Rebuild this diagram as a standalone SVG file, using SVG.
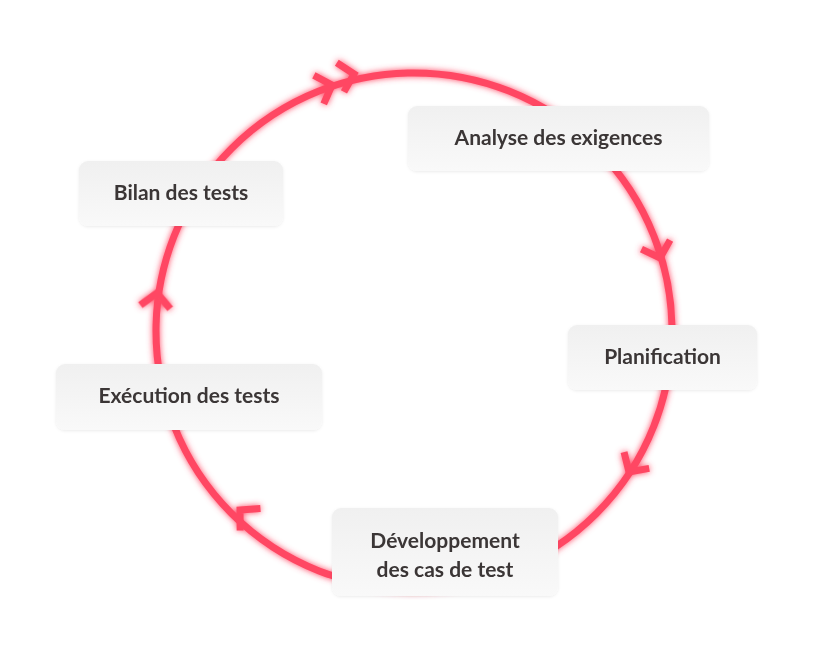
<svg xmlns="http://www.w3.org/2000/svg" width="840" height="650" viewBox="0 0 840 650">
<defs>
<filter id="glow" x="-20%" y="-20%" width="140%" height="140%"><feGaussianBlur in="SourceGraphic" stdDeviation="3" result="b"/><feMerge><feMergeNode in="b"/><feMergeNode in="SourceGraphic"/></feMerge></filter>
<filter id="sh" x="-10%" y="-20%" width="120%" height="140%"><feDropShadow dx="0" dy="1" stdDeviation="1.5" flood-color="#000" flood-opacity="0.08"/></filter>
<linearGradient id="bg" x1="0" y1="0" x2="0" y2="1"><stop offset="0" stop-color="#f0f0f0"/><stop offset="1" stop-color="#f9f9f9"/></linearGradient>
<path id="chev" d="M -14,-15 L 0,0 L -14,15"/>
</defs>
<style>
.ln{fill:none;stroke:#ff4763;stroke-width:7;stroke-linecap:butt}
.box{fill:url(#bg);filter:url(#sh)}
.t{font-family:Lato,"Open Sans",sans-serif;font-weight:bold;font-size:21px;fill:#3b3636;text-anchor:middle}
</style>
<rect width="840" height="650" fill="#fff"/>
<g id="connectors" filter="url(#glow)">
<circle class="ln" cx="414" cy="331" r="258"/>
<use href="#chev" class="ln" transform="translate(354,74) rotate(-13.8)"/>
<use href="#chev" class="ln" transform="translate(332,85) rotate(-19.3)"/>
<use href="#chev" class="ln" transform="translate(660,258) rotate(72.5)"/>
<use href="#chev" class="ln" transform="translate(629,472) rotate(123)"/>
<use href="#chev" class="ln" transform="translate(240,510) rotate(222.6)"/>
<use href="#chev" class="ln" transform="translate(157,293) rotate(-83)"/>
</g>
<g id="n1"><rect class="box" x="408" y="106" width="301" height="65" rx="9"/><text class="t" x="558.5" y="145">Analyse des exigences</text></g>
<g id="n2"><rect class="box" x="568" y="325" width="189" height="65" rx="9"/><text class="t" x="662.5" y="364">Planification</text></g>
<g id="n3"><rect class="box" x="332" y="508" width="226" height="88" rx="9"/><text class="t" x="445" y="548">Développement</text><text class="t" x="445" y="577">des cas de test</text></g>
<g id="n4"><rect class="box" x="56" y="364" width="266" height="66" rx="9"/><text class="t" x="189" y="403">Exécution des tests</text></g>
<g id="n5"><rect class="box" x="79" y="161" width="204" height="65" rx="9"/><text class="t" x="181" y="200">Bilan des tests</text></g>
</svg>
